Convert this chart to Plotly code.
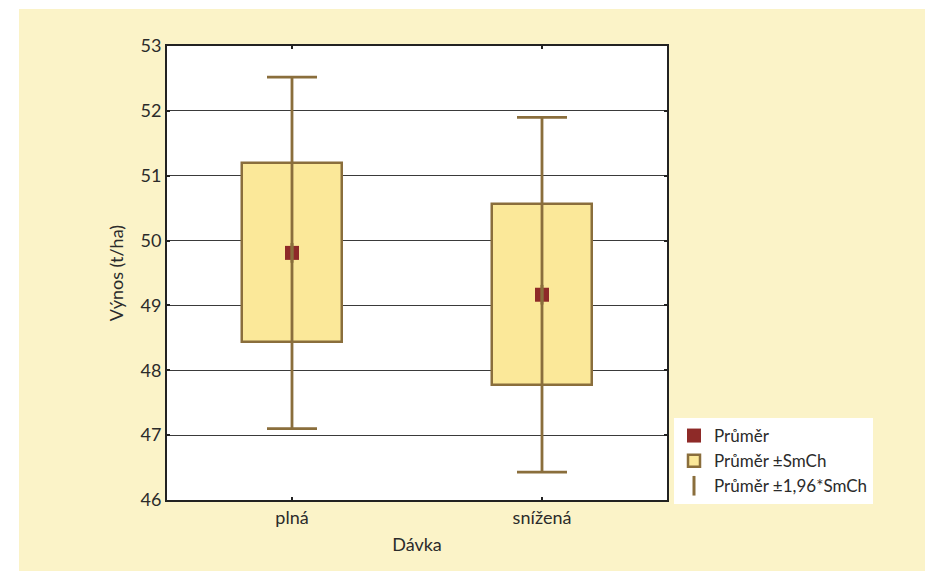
import plotly.graph_objects as go

# Data
categories = ["plná", "snížená"]
mean_values = [49.81, 49.165]
se_values = [1.38, 1.395]          # Průměr ± SmCh (half-height of box)
ci_values = [2.71, 2.735]          # Průměr ± 1,96*SmCh (whisker half-length)

legend_names = ["Průměr", "Průměr ±SmCh", "Průměr ±1,96*SmCh"]
y_ticks = [46, 47, 48, 49, 50, 51, 52, 53]

BROWN = "#8A6E3C"
BOXFILL = "#FBE899"
RED = "#8E2A28"
BG = "#FBF3C8"
FONT = "Lato"

box_base = [m - s for m, s in zip(mean_values, se_values)]
box_height = [2 * s for s in se_values]

fig = go.Figure()

fig.add_trace(go.Bar(
    x=categories, y=box_height, base=box_base, width=0.4,
    marker=dict(color=BOXFILL, line=dict(color=BROWN, width=2.5)),
    name=legend_names[1], legendrank=2, hoverinfo="skip",
))

fig.add_trace(go.Scatter(
    x=categories, y=mean_values, mode="markers",
    marker=dict(symbol="square", size=14, color=RED, line=dict(width=0)),
    name=legend_names[0], legendrank=1, hoverinfo="skip",
))

fig.add_trace(go.Scatter(
    x=categories, y=mean_values, mode="markers",
    marker=dict(symbol="line-ns", size=14, color=BROWN, line=dict(color=BROWN, width=3)),
    error_y=dict(type="data", array=ci_values, symmetric=True,
                 color=BROWN, thickness=2.8, width=25),
    name=legend_names[2], legendrank=3, hoverinfo="skip",
))

# The page body adds an 8 px offset; screen pixel = figure pixel + OFF
OFF = 8
W, H = 933, 571
L = 167 - OFF
T = 46 - OFF
R = W - (667 - OFF)
B = H - (500 - OFF)
pw, ph = W - L - R, H - T - B

def sx(px):  # screen px -> paper x
    return (px - OFF - L) / pw

def sy(py):  # screen py -> paper y
    return (H - B - (py - OFF)) / ph

shapes = [
    dict(type="rect", xref="paper", yref="paper", layer="below",
         x0=sx(0), x1=sx(19), y0=sy(H + 20), y1=sy(0),
         fillcolor="white", line=dict(width=0)),
    dict(type="rect", xref="paper", yref="paper", layer="below",
         x0=sx(0), x1=sx(W + 20), y0=sy(9), y1=sy(0),
         fillcolor="white", line=dict(width=0)),
]

fig.update_layout(
    width=W, height=H,
    margin=dict(l=L, r=R, t=T, b=B),
    paper_bgcolor=BG, plot_bgcolor="white",
    font=dict(family=FONT, size=18, color="#2b2b2b"),
    showlegend=True,
    legend=dict(
        x=sx(674), y=sy(418),
        xanchor="left", yanchor="top",
        bgcolor="white", borderwidth=0,
        font=dict(family=FONT, size=17, color="#2b2b2b"),
        itemsizing="trace", itemwidth=30,
        tracegroupgap=0,
    ),
    shapes=shapes,
    bargap=0,
)

fig.update_xaxes(
    type="category", range=[-0.5, 1.5],
    showline=True, linecolor="#222", linewidth=2, mirror="ticks",
    ticks="inside", ticklen=3, tickcolor="#222", tickwidth=2,
    showgrid=False, zeroline=False,
    title=dict(text="Dávka", font=dict(family=FONT, size=18), standoff=12),
    tickfont=dict(family=FONT, size=18),
)

fig.update_yaxes(
    range=[46, 53], tickvals=y_ticks,
    showline=True, linecolor="#222", linewidth=2, mirror="ticks",
    ticks="inside", ticklen=3, tickcolor="#222", tickwidth=2,
    showgrid=True, gridcolor="#3a3a3a", gridwidth=1.3, zeroline=False,
    title=dict(text="Výnos (t/ha)", font=dict(family=FONT, size=18), standoff=12),
    tickfont=dict(family=FONT, size=18),
)

fig.write_html("out.html")
